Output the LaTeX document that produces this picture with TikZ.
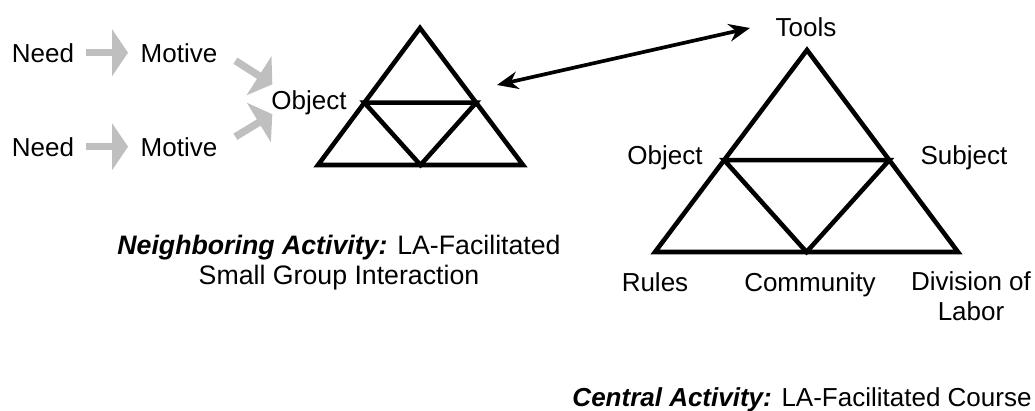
\documentclass[tikz,border=0pt]{standalone}
\usepackage{fontspec}
\setmainfont{Liberation Sans}
\usetikzlibrary{arrows.meta,calc}

\tikzset{
	lbl/.style={font=\fontsize{14.8}{17}\selectfont, inner sep=1pt},
	caption/.style={font=\fontsize{15.2}{17}\selectfont, inner sep=1pt, align=center},
	tri/.style={line width=2.6pt, line join=miter},
	grayarrow/.style={draw=gray!50, line width=4.2pt,
		-{Triangle[length=9pt,width=26pt]}},
	linkarrow/.style={line width=2.1pt,
		{Stealth[length=12pt,width=10pt]}-{Stealth[length=12pt,width=10pt]}},
}

\begin{document}
\begin{tikzpicture}[x=0.02cm,y=-0.02cm]
	\useasboundingbox (0,0) rectangle (1035,410);

	% neighboring activity triangle
	\coordinate (nT) at (420,28);
	\coordinate (nL) at (318,165);
	\coordinate (nR) at (523,165);
	\draw[tri] (nT) -- (nR) -- (nL) -- cycle;
	\draw[tri] ($(nT)!0.545!(nL)$) -- ($(nT)!0.545!(nR)$) -- ($(nL)!0.5!(nR)$) -- cycle;

	% central activity triangle
	\coordinate (cT) at (807,50);
	\coordinate (cL) at (655,252);
	\coordinate (cR) at (958,252);
	\draw[tri] (cT) -- (cR) -- (cL) -- cycle;
	\draw[tri] ($(cT)!0.545!(cL)$) -- ($(cT)!0.545!(cR)$) -- ($(cL)!0.5!(cR)$) -- cycle;

	% needs and motives
	\node[lbl, anchor=base] (need1) at (43,62) {Need};
	\node[lbl, anchor=base] (motive1) at (179,62) {Motive};
	\node[lbl, anchor=base] (need2) at (43,156) {Need};
	\node[lbl, anchor=base] (motive2) at (179,156) {Motive};
	\node[lbl, anchor=base] (objL) at (309,109) {Object};

	\draw[grayarrow, shorten <=5.5pt, shorten >=6pt] (need1.east) -- (motive1.west);
	\draw[grayarrow, shorten <=5.5pt, shorten >=6pt] (need2.east) -- (motive2.west);
	\draw[grayarrow] ([shift={(16,8)}]motive1.east) -- ([shift={(3,-18)}]objL.west);
	\draw[grayarrow] ([shift={(16,-10)}]motive2.east) -- ([shift={(3,12)}]objL.west);

	% labels round the central triangle
	\node[lbl, anchor=base] (tools) at (806,36) {Tools};
	\node[lbl, anchor=base] (objC) at (665,164) {Object};
	\node[lbl, anchor=base] (subj) at (964,164) {Subject};
	\node[lbl, anchor=base] (rules) at (655,291) {Rules};
	\node[lbl, anchor=base] (comm) at (810,291) {Community};
	\node[lbl, align=center] (divl) at (971,296) {Division of\\Labor};

	% link between the two activities
	\coordinate (lnkA) at (497,85);
	\coordinate (lnkB) at (750,28);
	\draw[linkarrow] (lnkA) -- (lnkB);

	% captions
	\node[caption] (nbcap) at (339,263)
		{\textbf{\textit{Neighboring Activity:}} LA-Facilitated\\Small Group Interaction};
	\node[lbl] (ccap) at (802,400)
		{\textbf{\textit{Central Activity:}} LA-Facilitated Course};
\end{tikzpicture}
\end{document}
